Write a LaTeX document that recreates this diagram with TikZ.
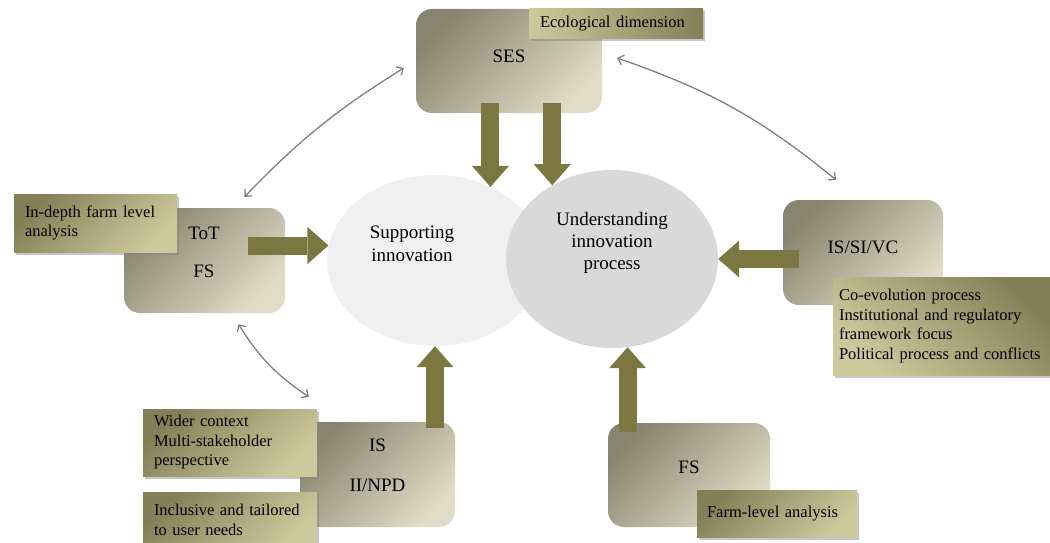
\documentclass[tikz,border=0pt]{standalone}
\usepackage{fontspec}
\setmainfont{Liberation Serif}
\usetikzlibrary{arrows.meta,shadows,shapes.geometric,calc}
\definecolor{boxdark}{RGB}{135,132,112}
\definecolor{boxlight}{RGB}{224,220,198}
\definecolor{notedark}{RGB}{133,127,88}
\definecolor{notelight}{RGB}{206,201,156}
\definecolor{olivearrow}{RGB}{124,118,64}
\definecolor{supportgray}{RGB}{240,240,240}
\definecolor{processgray}{RGB}{217,217,217}
\definecolor{linkgray}{RGB}{128,128,128}
\newcommand\lblsize{\fontsize{19}{22}\selectfont}
\newcommand\notesize{\fontsize{16.5}{19.5}\selectfont}
\tikzset{
  mainbox/.style={rectangle,rounded corners=16pt,top color=boxdark,bottom color=boxlight,shading angle=45,inner sep=0pt},
  notebox/.style={rectangle,top color=notedark,bottom color=notelight,shading angle=45,inner xsep=11pt,inner ysep=0pt,
    align=left,font=\notesize,drop shadow={shadow xshift=1.5pt,shadow yshift=-2.5pt,opacity=0.45}},
  lbl/.style={inner sep=0pt,align=center,font=\lblsize},
  fatarrow/.style={draw=olivearrow,line width=18pt,-{Triangle[length=21pt,width=37pt,line width=0pt]}},
  link/.style={draw=linkgray,line width=1.3pt,{Straight Barb[length=5pt,width=10pt]}-{Straight Barb[length=5pt,width=10pt]}}
}
\begin{document}
\begin{tikzpicture}[x=1pt,y=-1pt]
\useasboundingbox (0,0) rectangle (1050,543);
\node[ellipse,fill=supportgray,minimum width=216pt,minimum height=171pt,inner sep=0pt] (supp) at (435,260.5) {};
\node[ellipse,fill=processgray,minimum width=212pt,minimum height=178pt,inner sep=0pt] (und) at (612,259) {};
\node[lbl] (supplbl) at ([xshift=-23pt,yshift=17pt]supp.center) {Supporting\\[1pt]innovation};
\node[lbl] (undlbl) at ([yshift=16pt]und.center) {Understanding\\innovation\\process};

\node[mainbox,minimum width=186pt,minimum height=104pt] (ses) at (509,61) {};
\node[mainbox,minimum width=161pt,minimum height=105pt] (tot) at (204.5,260.5) {};
\node[mainbox,minimum width=160pt,minimum height=105pt] (isv) at (863,252.5) {};
\node[mainbox,minimum width=155pt,minimum height=105pt] (is) at (377.5,474.5) {};
\node[mainbox,minimum width=162pt,minimum height=104pt] (fs) at (689,475) {};
\node[lbl] (seslbl) at ([yshift=5pt]ses.center) {SES};
\node[lbl] (totlbl) at ([xshift=-0.5pt,yshift=8.5pt]tot.center) {ToT\\[16pt]FS};
\node[lbl] (isvlbl) at ([yshift=5.5pt]isv.center) {IS/SI/VC};
\node[lbl] (islbl) at ([yshift=9.5pt]is.center) {IS\\[18pt]II/NPD};
\node[lbl] (fslbl) at ([yshift=8pt]fs.center) {FS};

\node[notebox,text width=152pt,minimum height=30pt,shading angle=-90] (ecol) at (616,24) {Ecological dimension};
\node[notebox,text width=141pt,minimum height=58pt] (depth) at (95.5,223) {In-depth farm level\\analysis};
\node[notebox,text width=208pt,inner xsep=6pt,minimum height=98pt,shading angle=-45] (coevo) at (943,326)
  {Co-evolution process\\Institutional and regulatory\\framework focus\\Political process and conflicts};
\node[notebox,text width=152pt,minimum height=67pt] (wider) at (230,442.5) {Wider context\\Multi-stakeholder\\perspective};
\node[notebox,text width=152pt,minimum height=56pt] (incl) at (230,520) {Inclusive and tailored\\to user needs};
\node[notebox,text width=140pt,inner xsep=10pt,minimum height=47pt] (farm) at (777,513.5) {Farm-level analysis};

\draw[fatarrow] ($(ses.south -| supp.53)+(0,-10)$) -- (supp.53);
\draw[fatarrow] ($(ses.south -| und.129)+(0,-10)$) -- (und.129);
\draw[fatarrow] ($(tot.east |- supp.172)+(-37,0)$) -- (supp.172);
\draw[fatarrow] ($(isv.west |- und.east)+(16,0)$) -- (und.east);
\draw[fatarrow] ($(supp.south |- is.north)+(0,6)$) -- (supp.south);
\draw[fatarrow] ($(und.280 |- fs.north)+(0,9)$) -- (und.280);

\draw[link] ([xshift=40pt,yshift=11pt]tot.north) to[bend left=7] ([xshift=-12pt,yshift=-7pt]ses.west);
\draw[link] ([xshift=15pt,yshift=3pt]ses.east) to[bend left=10] ([xshift=-27pt,yshift=20pt]isv.north);
\draw[link] ([xshift=34pt,yshift=-11pt]tot.south) to[bend right=12] ([xshift=9pt,yshift=25pt]is.north west);
\end{tikzpicture}
\end{document}
